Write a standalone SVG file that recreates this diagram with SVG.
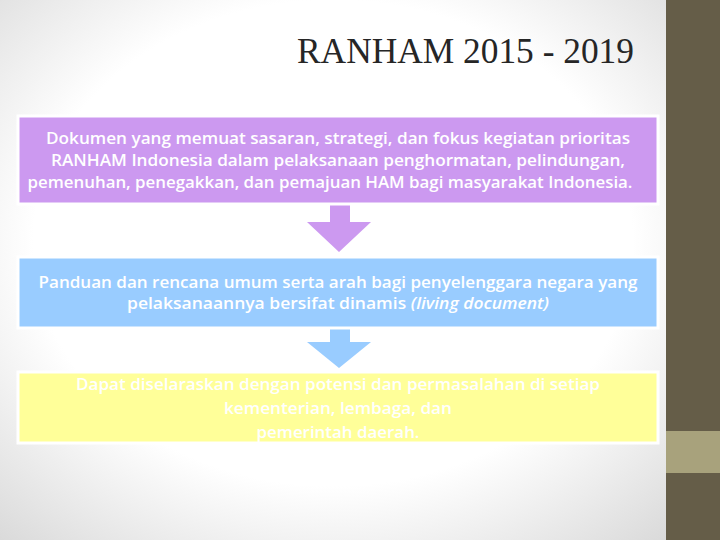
<svg xmlns="http://www.w3.org/2000/svg" width="720" height="540" viewBox="0 0 720 540">
<defs>
<radialGradient id="bg" cx="0.5" cy="0.45" r="0.75">
<stop offset="0" stop-color="#ffffff"/>
<stop offset="0.6" stop-color="#ffffff"/>
<stop offset="1" stop-color="#d9d9d9"/>
</radialGradient>
</defs>
<style>
.box{stroke:#ffffff;stroke-width:3}
.t{font-family:"Open Sans","Liberation Sans",sans-serif;font-size:16px;font-weight:600;fill:#ffffff;text-anchor:middle}
.title{font-family:"Liberation Serif","DejaVu Serif",serif;font-size:35px;fill:#262626}
</style>
<rect x="0" y="0" width="666" height="540" fill="url(#bg)"/>
<rect x="666" y="0" width="54" height="540" fill="#655D48"/>
<rect x="666" y="431" width="54" height="42" fill="#A8A27C"/>
<text class="title" x="297" y="63" textLength="337" lengthAdjust="spacingAndGlyphs">RANHAM 2015 - 2019</text>
<g id="connectors">
<path d="M330 204 H350 V222 H371 L339 252 L307 222 H330 Z" fill="#CC99F0"/>
<path d="M330 328 H350 V342 H371 L339 368 L307 342 H330 Z" fill="#99CCFF"/>
</g>
<g id="node1">
<rect class="box" x="18" y="116" width="640" height="88" fill="#CC99F0"/>
<text class="t" x="338" y="144" textLength="584" lengthAdjust="spacingAndGlyphs">Dokumen yang memuat sasaran, strategi, dan fokus kegiatan prioritas</text>
<text class="t" x="338" y="166" textLength="574" lengthAdjust="spacingAndGlyphs">RANHAM Indonesia dalam pelaksanaan penghormatan, pelindungan,</text>
<text class="t" x="330" y="188" textLength="605" lengthAdjust="spacingAndGlyphs">pemenuhan, penegakkan, dan pemajuan HAM  bagi masyarakat Indonesia.</text>
</g>
<g id="node2">
<rect class="box" x="18" y="257" width="640" height="71" fill="#99CCFF"/>
<text class="t" x="338" y="288" textLength="599" lengthAdjust="spacingAndGlyphs">Panduan dan rencana umum serta arah bagi penyelenggara negara yang</text>
<text class="t" x="338" y="309" textLength="422" lengthAdjust="spacingAndGlyphs">pelaksanaannya bersifat dinamis <tspan font-style="italic">(living document)</tspan></text>
</g>
<g id="node3">
<rect class="box" x="18" y="372" width="640" height="71" fill="#FFFF99"/>
<text class="t" x="338" y="390" textLength="524" lengthAdjust="spacingAndGlyphs">Dapat diselaraskan dengan potensi dan permasalahan di setiap</text>
<text class="t" x="338" y="414" textLength="228" lengthAdjust="spacingAndGlyphs">kementerian, lembaga, dan</text>
<text class="t" x="338" y="438" textLength="163" lengthAdjust="spacingAndGlyphs">pemerintah daerah.</text>
</g>
</svg>
